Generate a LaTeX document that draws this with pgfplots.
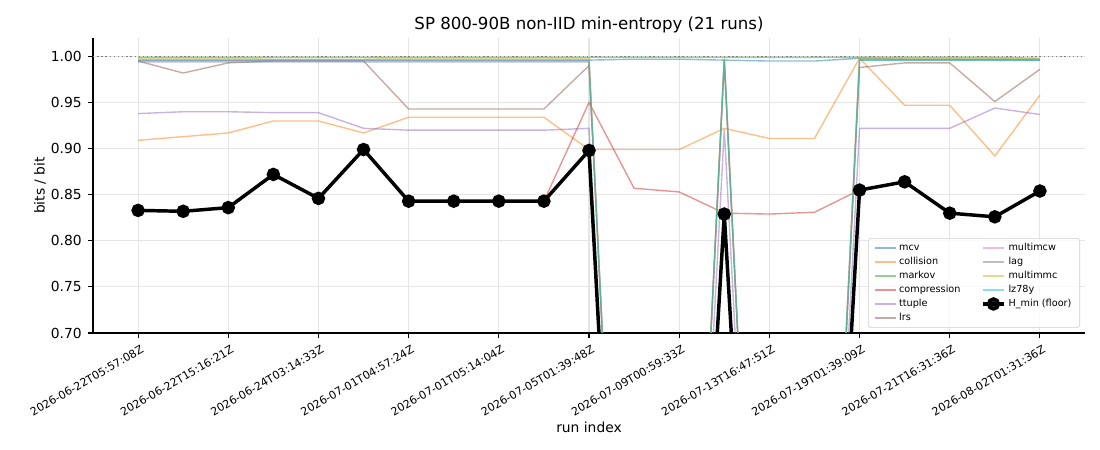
\documentclass[border=0pt]{standalone}
\usepackage{fontspec}
\setmainfont{DejaVu Sans}
\usepackage{pgfplots}
\usepackage{pgfplotstable}
\pgfplotsset{compat=1.18}
\definecolor{tabblue}{HTML}{1F77B4}
\definecolor{taborange}{HTML}{FF7F0E}
\definecolor{tabgreen}{HTML}{2CA02C}
\definecolor{tabred}{HTML}{D62728}
\definecolor{tabpurple}{HTML}{9467BD}
\definecolor{tabbrown}{HTML}{8C564B}
\definecolor{tabpink}{HTML}{E377C2}
\definecolor{tabgray}{HTML}{7F7F7F}
\definecolor{tabolive}{HTML}{BCBD22}
\definecolor{tabcyan}{HTML}{17BECF}
\pgfplotstableread{
x  mcv   coll  mark  comp  ttup  lrs   mcw   lag   mmc   lz    hmin
0  0.996 0.909 0.999 0.833 0.938 0.995 0.996 0.994 0.998 0.995 0.833
1  0.996 0.913 0.999 0.832 0.940 0.982 0.996 0.994 0.998 0.995 0.832
2  0.996 0.917 0.999 0.836 0.940 0.993 0.996 0.994 0.998 0.995 0.836
3  0.996 0.930 0.999 0.872 0.939 0.995 0.996 0.994 0.997 0.995 0.872
4  0.996 0.930 0.999 0.846 0.939 0.995 0.996 0.994 0.997 0.995 0.846
5  0.996 0.917 0.999 0.899 0.922 0.995 0.996 0.994 0.997 0.995 0.899
6  0.996 0.934 0.999 0.843 0.920 0.943 0.996 0.994 0.998 0.995 0.843
7  0.996 0.934 0.999 0.843 0.920 0.943 0.996 0.994 0.998 0.995 0.843
8  0.996 0.934 0.999 0.843 0.920 0.943 0.996 0.994 0.998 0.995 0.843
9  0.996 0.934 0.999 0.843 0.920 0.943 0.996 0.994 0.998 0.995 0.843
10 0.996 0.899 0.999 0.950 0.922 0.990 0.996 0.994 0.998 0.995 0.898
11 0.997 0.899 0.999 0.857 0.000 0.000 0.000 0.000 0.000 0.000 0.000
12 0.997 0.899 0.999 0.853 0.000 0.000 0.000 0.000 0.000 0.000 0.000
13 0.996 0.922 0.999 0.830 0.921 0.995 0.997 0.995 0.998 0.997 0.829
14 0.995 0.911 0.999 0.829 0.000 0.000 0.000 0.000 0.000 0.000 0.000
15 0.995 0.911 0.999 0.831 0.000 0.000 0.000 0.000 0.000 0.000 0.000
16 0.998 0.998 0.999 0.855 0.922 0.988 0.997 0.996 0.998 0.996 0.855
17 0.997 0.947 0.999 0.864 0.922 0.993 0.997 0.996 0.998 0.996 0.864
18 0.997 0.947 0.999 0.830 0.922 0.993 0.997 0.996 0.998 0.996 0.830
19 0.997 0.892 0.999 0.826 0.944 0.951 0.997 0.996 0.998 0.996 0.826
20 0.996 0.958 0.998 0.854 0.937 0.986 0.997 0.996 0.997 0.996 0.854
}\runs
\begin{document}
\begin{tikzpicture}
\useasboundingbox (0,0) rectangle (11in,4.5in);
\begin{axis}[
  at={(0.93in,1.17in)}, anchor=south west,
  scale only axis, width=9.92in, height=2.95in,
  xmin=-1, xmax=21, ymin=0.70, ymax=1.02,
  axis lines=left, axis line style={-, line width=0.8pt},
  tick align=outside, major tick length=3.5pt,
  tick style={line width=0.8pt, black},
  xtick={0,2,...,20},
  xticklabels={2026-06-22T05:57:08Z,2026-06-22T15:16:21Z,2026-06-24T03:14:33Z,2026-07-01T04:57:24Z,2026-07-01T05:14:04Z,2026-07-05T01:39:48Z,2026-07-09T00:59:33Z,2026-07-13T16:47:51Z,2026-07-19T01:39:09Z,2026-07-21T16:31:36Z,2026-08-02T01:31:36Z},
  xticklabel style={rotate=30, anchor=north east, font=\fontsize{8}{9.6}\selectfont, inner sep=1pt, yshift=-4pt},
  ytick={0.70,0.75,...,1.001},
  yticklabel style={/pgf/number format/.cd, fixed, fixed zerofill, precision=2, assume math mode=true, /tikz/.cd, font=\fontsize{10}{12}\selectfont, anchor=east, inner sep=1pt, xshift=-3.5pt},
  grid=major, grid style={line width=0.8pt, black!10},
  title={SP 800-90B non-IID min-entropy (21 runs)},
  title style={font=\fontsize{12}{14.4}\selectfont, at={(axis description cs:0.5,1)}, anchor=south, yshift=-5.8pt},
  xlabel={run index},
  xlabel style={font=\fontsize{10}{12}\selectfont, at={(axis description cs:0.5,0)}, anchor=center, yshift=-0.94in},
  ylabel={bits / bit},
  ylabel style={font=\fontsize{10}{12}\selectfont, at={(axis description cs:-0.0534,0.5)}, anchor=center},
  legend columns=2,
  legend style={at={(0.995,0.017)}, anchor=south east, font=\fontsize{7}{8.4}\selectfont,
    draw=black!20, rounded corners=2pt, fill=white, fill opacity=0.8, text opacity=1,
    inner xsep=4pt, inner ysep=2pt,
    nodes={inner ysep=1.6pt, text height=5.4pt, text depth=1.5pt},
    /tikz/every even column/.append style={column sep=13pt}},
  legend cell align=left,
  legend image code/.code={\draw[mark repeat=2, mark phase=2, #1] plot coordinates {(0in,0in) (0.105in,0in) (0.21in,0in)};},
  every axis plot/.append style={line width=1pt},
]
\pgfplotsset{thin series/.style={forget plot, no marks, opacity=0.5, line width=1pt}}
\addplot[thin series, tabblue] table[x=x, y=mcv] {\runs};
\addplot[thin series, taborange] table[x=x, y=coll] {\runs};
\addplot[thin series, tabgreen] table[x=x, y=mark] {\runs};
\addplot[thin series, tabred] table[x=x, y=comp] {\runs};
\addplot[thin series, tabpurple] table[x=x, y=ttup] {\runs};
\addplot[thin series, tabbrown] table[x=x, y=lrs] {\runs};
\addplot[thin series, tabpink] table[x=x, y=mcw] {\runs};
\addplot[thin series, tabgray] table[x=x, y=lag] {\runs};
\addplot[thin series, tabolive] table[x=x, y=mmc] {\runs};
\addplot[thin series, tabcyan] table[x=x, y=lz] {\runs};
\addplot[forget plot, no marks, tabgray, line width=1pt, dotted] coordinates {(-1,1) (21,1)};
\addplot[forget plot, black, line width=2.5pt, mark=*, mark size=3.6pt, mark options={solid}] table[x=x, y=hmin] {\runs};
% legend (row-major order reproducing matplotlib column layout)
\addlegendimage{tabblue, opacity=0.5, line width=1pt, no marks}\addlegendentry{mcv}
\addlegendimage{tabpink, opacity=0.5, line width=1pt, no marks}\addlegendentry{multimcw}
\addlegendimage{taborange, opacity=0.5, line width=1pt, no marks}\addlegendentry{collision}
\addlegendimage{tabgray, opacity=0.5, line width=1pt, no marks}\addlegendentry{lag}
\addlegendimage{tabgreen, opacity=0.5, line width=1pt, no marks}\addlegendentry{markov}
\addlegendimage{tabolive, opacity=0.5, line width=1pt, no marks}\addlegendentry{multimmc}
\addlegendimage{tabred, opacity=0.5, line width=1pt, no marks}\addlegendentry{compression}
\addlegendimage{tabcyan, opacity=0.5, line width=1pt, no marks}\addlegendentry{lz78y}
\addlegendimage{tabpurple, opacity=0.5, line width=1pt, no marks}\addlegendentry{ttuple}
\addlegendimage{black, line width=2.5pt, mark=*, mark size=3.6pt}\addlegendentry{H\_min (floor)}
\addlegendimage{tabbrown, opacity=0.5, line width=1pt, no marks}\addlegendentry{lrs}
\end{axis}
\end{tikzpicture}
\end{document}
